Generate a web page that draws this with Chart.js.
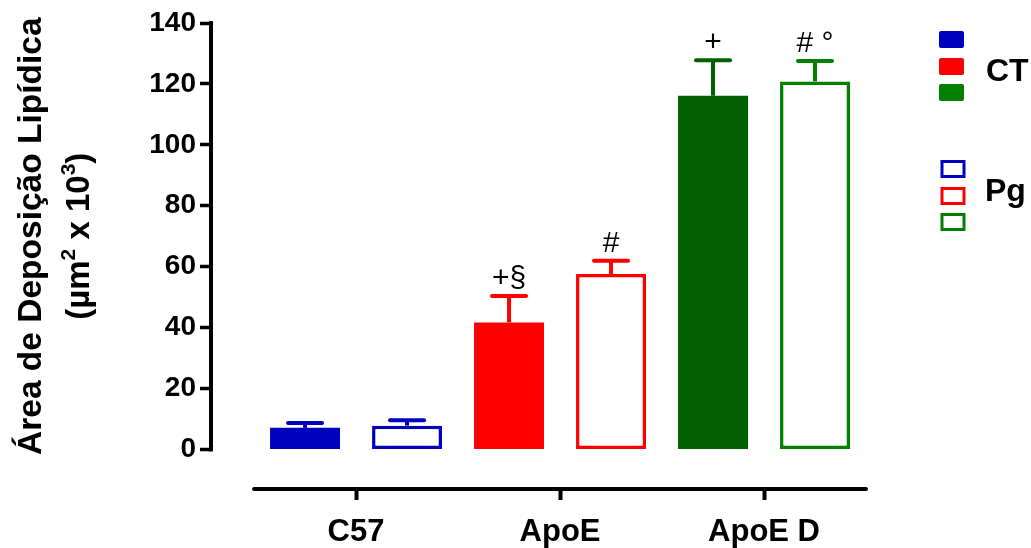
<!DOCTYPE html>
<html>
<head>
<meta charset="utf-8">
<script src="https://cdn.jsdelivr.net/npm/chart.js@4.4.0/dist/chart.umd.min.js"></script>
<style>
html, body { margin: 0; padding: 0; background: #fff; }
#wrap { width: 1031px; height: 548px; position: relative; }
</style>
</head>
<body>
<div id="wrap"><canvas id="lipid-chart"></canvas></div>
<script>
// values
const groups = ['C57', 'ApoE', 'ApoE D'];
const ctMeans = [7.1, 41.7, 116.1];
const ctErr = [1.6, 8.7, 11.7];
const pgMeans = [7.8, 57.6, 120.8];
const pgErr = [1.8, 4.3, 6.7];
const ctMarks = ['', '+\u00a7', '+'];
const pgMarks = ['', '#', '# \u00b0'];
const yTicks = [0, 20, 40, 60, 80, 100, 120, 140];

const groupColors = ['#0000bf', '#ff0000', '#008000'];
const ctFill = ['#0000bf', '#ff0000', '#006000'];
const FONT = '"Liberation Sans", Arial, Helvetica, sans-serif';

const ctData = ctMeans.map((v, i) => ({x: i, y: v}));
const pgData = pgMeans.map((v, i) => ({x: i, y: v}));

// error bars + significance marks
const errorBars = {
    id: 'errorBars',
    afterDatasetsDraw(chart) {
        const ctx = chart.ctx;
        const y = chart.scales.y;
        chart.data.datasets.forEach((ds, di) => {
            const meta = chart.getDatasetMeta(di);
            meta.data.forEach((bar, i) => {
                const top = y.getPixelForValue(ds.data[i].y + ds.errors[i]);
                ctx.save();
                ctx.strokeStyle = ds.errColors[i];
                ctx.lineWidth = 4;
                ctx.lineCap = 'butt';
                ctx.beginPath();
                ctx.moveTo(bar.x, bar.y);
                ctx.lineTo(bar.x, top);
                ctx.stroke();
                ctx.lineCap = 'round';
                ctx.beginPath();
                ctx.moveTo(bar.x - 17, top);
                ctx.lineTo(bar.x + 17, top);
                ctx.stroke();
                if (ds.marks[i]) {
                    ctx.fillStyle = '#000';
                    ctx.font = '30px ' + FONT;
                    ctx.textAlign = 'center';
                    ctx.textBaseline = 'alphabetic';
                    ctx.fillText(ds.marks[i], bar.x, top - 9);
                }
                ctx.restore();
            });
        });
    }
};

// axis lines, y title, legend
const decorations = {
    id: 'decorations',
    afterDraw(chart) {
        const ctx = chart.ctx;
        const x = chart.scales.x;
        const y = chart.scales.y;
        const area = chart.chartArea;
        ctx.save();
        ctx.strokeStyle = '#000';
        ctx.lineWidth = 4;
        ctx.lineCap = 'butt';
        // y axis only spans the tick range
        ctx.beginPath();
        ctx.moveTo(area.left, y.getPixelForValue(yTicks[0]) + 2);
        ctx.lineTo(area.left, y.getPixelForValue(yTicks[yTicks.length - 1]) - 2);
        ctx.stroke();
        // detached x axis
        ctx.lineCap = 'round';
        ctx.beginPath();
        ctx.moveTo(x.getPixelForValue(-0.5), area.bottom);
        ctx.lineTo(x.getPixelForValue(groups.length - 0.5), area.bottom);
        ctx.stroke();

        // y title, two rotated lines
        const midY = (y.getPixelForValue(yTicks[0]) + y.getPixelForValue(yTicks[yTicks.length - 1])) / 2;
        ctx.fillStyle = '#000';
        ctx.textBaseline = 'middle';
        ctx.save();
        ctx.translate(32, midY);
        ctx.rotate(-Math.PI / 2);
        ctx.font = 'bold 33.5px ' + FONT;
        ctx.textAlign = 'center';
        ctx.fillText('\u00c1rea de Deposi\u00e7\u00e3o Lip\u00eddica', 0, 0);
        ctx.restore();

        ctx.save();
        ctx.translate(80, midY);
        ctx.rotate(-Math.PI / 2);
        const big = 'bold 33px ' + FONT;
        const small = 'bold 21px ' + FONT;
        const parts = [['(\u00b5m', big, 0], ['2', small, -11], [' x 10', big, 0], ['3', small, -11], [')', big, 0]];
        let total = 0;
        parts.forEach(p => { ctx.font = p[1]; total += ctx.measureText(p[0]).width; });
        let pos = -total / 2;
        ctx.textAlign = 'left';
        parts.forEach(p => {
            ctx.font = p[1];
            ctx.fillText(p[0], pos, p[2]);
            pos += ctx.measureText(p[0]).width;
        });
        ctx.restore();

        // legend
        const rows = [[31, 58, 84], [160, 187, 213]];
        groupColors.forEach((c, i) => {
            ctx.fillStyle = c;
            ctx.beginPath();
            ctx.roundRect(939, rows[0][i], 25, 17, 2);
            ctx.fill();
            ctx.strokeStyle = c;
            ctx.lineWidth = 3;
            ctx.strokeRect(942, rows[1][i] + 1.5, 22, 15);
        });
        ctx.fillStyle = '#000';
        ctx.font = 'bold 32px ' + FONT;
        ctx.textAlign = 'left';
        ctx.textBaseline = 'alphabetic';
        ctx.fillText('CT', 986, 81);
        ctx.fillText('Pg', 985, 201);
        ctx.restore();
    }
};

new Chart(document.getElementById('lipid-chart'), {
    type: 'bar',
    data: {
        datasets: [
            {
                label: 'CT',
                data: ctData,
                backgroundColor: ctFill,
                borderWidth: 0,
                errors: ctErr,
                errColors: ctFill,
                marks: ctMarks
            },
            {
                label: 'Pg',
                data: pgData,
                backgroundColor: '#ffffff',
                borderColor: groupColors,
                borderWidth: 3.5,
                borderSkipped: false,
                errors: pgErr,
                errColors: groupColors,
                marks: pgMarks
            }
        ]
    },
    options: {
        responsive: true,
        maintainAspectRatio: false,
        animation: false,
        categoryPercentage: 1.0,
        barPercentage: 0.686,
        layout: { padding: { left: 0, top: 23, right: 166, bottom: 0 } },
        plugins: {
            legend: { display: false },
            tooltip: { enabled: false }
        },
        scales: {
            x: {
                type: 'linear',
                min: -0.711,
                max: 2.495,
                offset: false,
                afterBuildTicks: (scale) => { scale.ticks = groups.map((g, i) => ({value: i})); },
                afterFit: (scale) => { scale.height = 59; },
                ticks: {
                    callback: (v) => groups[v],
                    color: '#000',
                    font: { family: FONT, size: 31, weight: 'bold' },
                    padding: 14,
                    maxRotation: 0,
                    autoSkip: false
                },
                grid: {
                    offset: false,
                    drawOnChartArea: false,
                    drawTicks: true,
                    tickLength: 11,
                    tickWidth: 4,
                    tickColor: '#000'
                },
                border: { display: false }
            },
            y: {
                min: -13,
                max: 140,
                afterBuildTicks: (scale) => { scale.ticks = yTicks.map(v => ({value: v})); },
                afterFit: (scale) => { scale.width = 211; },
                ticks: {
                    color: '#000',
                    font: { family: FONT, size: 28, weight: 'bold' },
                    padding: 4
                },
                grid: {
                    drawOnChartArea: false,
                    drawTicks: true,
                    tickLength: 11,
                    tickWidth: 3.5,
                    tickColor: '#000'
                },
                border: { display: false }
            }
        }
    },
    plugins: [errorBars, decorations]
});
</script>
</body>
</html>
